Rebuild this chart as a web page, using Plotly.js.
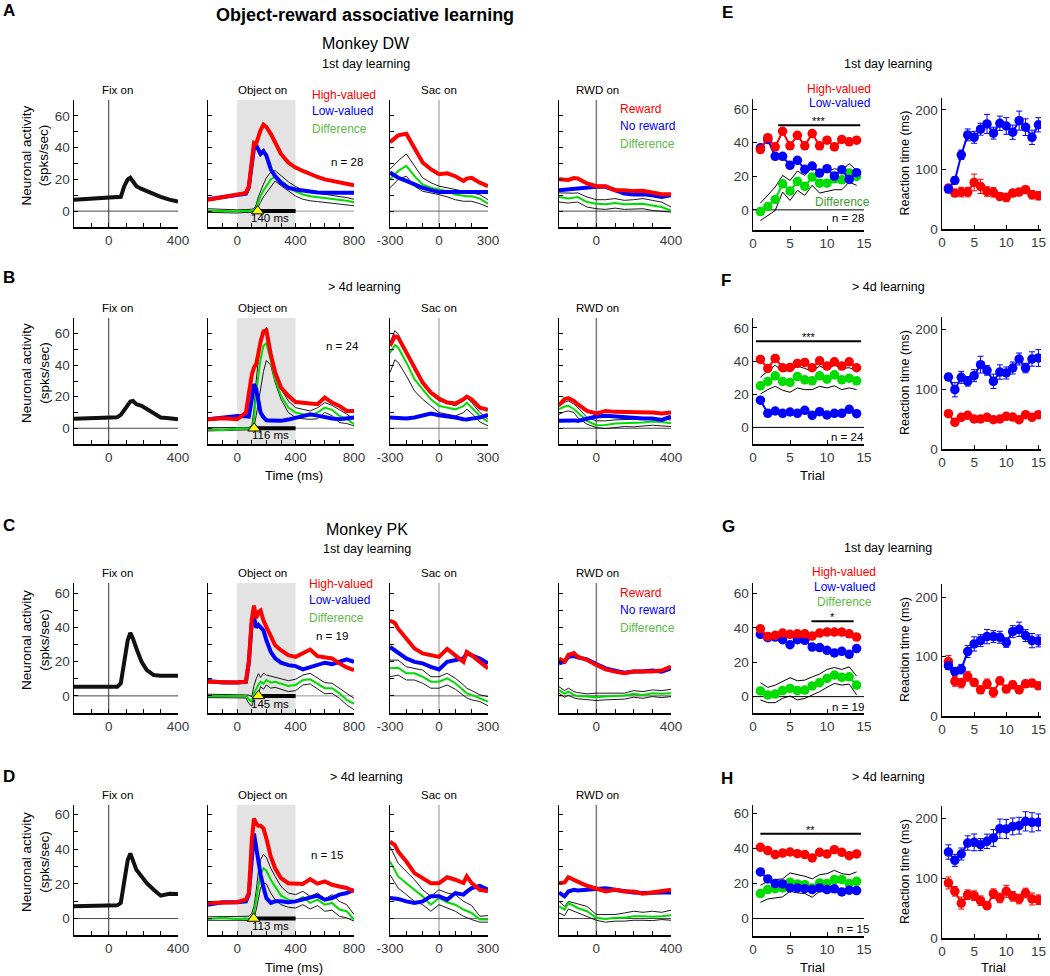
<!DOCTYPE html>
<html>
<head>
<meta charset="utf-8">
<script src="https://cdn.plot.ly/plotly-3.0.1.min.js"></script>
<style>
  body { margin: 0; background: #fff; }
  #fig { width: 1050px; height: 976px; }
</style>
</head>
<body>
<div id="fig"></div>
<script>
//========================= Data: neuronal activity (spks/sec) =====================================
// Fix on
const tFix = [-200,-100,0,50,70,90,110,125,140,160,190,220,260,300,350,400];
const fixA = [7.2,7.9,8.3,8.7,9,15.7,20,21,19,15.7,14,12.5,10.4,9,7.2,6];
const fixB = [6.1,6.3,6.8,7,8.5,12,15.5,17,17.3,15.3,14.2,12.1,8.9,6.8,6.4,5.7];
const fixC = [5.4,5.4,5.4,5.4,7.4,20.9,32.5,36.8,33.5,27.7,19.9,15.1,12.2,11.8,11.8,11.8];
const fixD = [7.1,7.1,7.5,7.6,9,22.4,33.8,37.6,32.9,28.1,24.3,20.4,16.6,13.2,14.3,14.1];

// Object on
const tObj = [-200,-100,0,60,80,100,115,130,145,160,180,200,230,260,300,350,400,450,500,550,600,650,700,750,800];
const redObjA = [7.2,9,10.4,11.5,15.7,32.8,43,42.5,47,51,54.5,53,48.7,43.4,36,30.6,27.4,25.3,23.2,21.5,20,19,17.9,17,16.2];
const blueObjA = [7.5,9,10.4,11,15,32,40,41.5,39,36,37.8,35,26.4,22,17.9,14.7,13.6,12.8,12,11.8,11.5,11.5,11.5,11.5,11.5];
const greenObjA = [0.4,0,-0.2,0.2,0,0.4,0.5,2,6,9.5,13,15.7,20,22,19,15.5,12.5,10.5,9.4,8.8,8.3,7.8,7.2,6.5,5.5];
const upObjA = [1.5,1,0.8,1,1,1.2,1.5,4,9,13,17,21,24.5,25.5,22.5,18.5,15.5,13,12,11.3,10.5,10,9.5,8.5,7.5];
const loObjA = [-0.8,-1,-1.2,-0.8,-1,-0.5,-0.5,0.2,2.5,5.5,9,11.5,16,19,16,12.5,9.5,7.5,6.5,6,5.5,5,4.5,4,3.4];

const redObjB = [5.7,6.4,5.7,10,22,34,38.5,40.7,47.5,55,61.5,62,47,35.4,25.9,20.6,16.7,16.3,15.9,15.3,19.5,16.3,14.2,11,11];
const blueObjB = [5.7,6.8,7.8,7.6,7.4,18.4,28,25,15.5,10,7,5.1,5,5,4.7,5.5,6.8,8,8.9,8,6.8,6.2,5.7,6.2,6.8];
const greenObjB = [-0.6,-1.3,-0.2,-0.2,-0.2,0.5,6,22.7,35,44,52.4,54,43,31.2,20.6,13.1,10,8.9,7.8,10,13.1,11.7,7.8,6.1,2.5];
const upObjB = [0.4,0.2,0.4,0.4,0.5,1.5,12,30,44,53,60,64,48,37.5,24.8,17.4,13.1,12,11,13,16.3,14.5,12,9,5.7];
const loObjB = [-1.7,-1.5,-1.1,-1,-1,-0.5,1,8,17,26,36,43,40,29,18.4,10,6.8,6,5.7,6,10,8,3.6,3,1.5];

const redObjC = [8.3,7.9,7.9,8.3,20,45,52.8,45.5,49,49.9,44,40.3,34.4,29.6,26.7,23.8,22.8,24.8,27.1,23.2,22.8,21.9,19,16.6,15.1];
const blueObjC = [8.7,7.9,7.9,8.3,20,43,46,40,41.5,40,38.3,32.5,25.7,21.9,19.4,18,17.4,15.5,16.6,18,19.4,18.6,19.9,21.3,19.9];
const greenObjC = [0,0,-0.4,0,-2,-3.5,1.5,4.5,6.5,8.3,7,9.3,7.7,8.3,7,5.8,6.4,9.3,9.7,7,4.5,4.5,1.5,-2.3,-4.6];
const upObjC = [1,0.8,0.6,0.8,0.5,-0.5,6,10,13,10.8,13.2,12.2,11.5,11.2,10,8.9,9.7,12.2,13.2,10.3,7.7,7.4,4.5,1.5,-1.4];
const loObjC = [-1,-1.2,-1.4,-1.2,-4.5,-6,-2,-0.5,1.5,5.4,3.9,6.4,4.5,5,3.9,2.5,3.1,6.4,7,3.9,1.2,1.5,-1.4,-5.2,-8.1];

const redObjD = [9,9.4,9.4,11,14.7,45.3,57.7,54.8,53.5,53.5,52,46.2,35.7,29,23.3,20.4,20.1,19.9,22.7,20.1,21.4,19.5,18.5,17.6,15.7];
const blueObjD = [8,9.4,9.4,9.9,14,38,49,41,32.5,25.5,18,11.8,9,9.9,9.9,9.4,9.9,10.9,11.8,13.2,10.9,11.8,13.8,14.7,16.6];
const greenObjD = [-0.2,0.4,-0.2,0,-0.4,1,3.2,11,19.5,26,29,27.6,22.4,18.5,13.2,10.9,9.9,12.4,9,10.9,8,9,5.2,4.2,-0.6];
const upObjD = [1,1,1,1,1.3,3,7.1,16,27,34,37,35.2,29,24.3,18.5,14.7,13.8,15.7,12.8,14.7,11.3,13.8,9.9,8,2.3];
const loObjD = [-1,-1,-1,-1,-1.5,-0.5,0.4,5,12,17.5,20.4,20,14.7,10.9,8,6.5,6.1,8,5.5,7.5,4.2,4.8,1.3,0.4,-1.5];

// Sac on
const tSac = [-300,-270,-250,-200,-150,-100,-50,0,50,100,150,170,200,250,300];
const redSacA = [43.4,46,47.7,48.7,39,30.6,26.4,23.2,23.8,22,19,20.5,21,17.9,15.7];
const blueSacA = [24.3,22.5,21,19,16.8,14.7,13.2,12,12,12.3,12,12,12.1,12.3,12];
const greenSacA = [20,23,25.3,28.5,22,16.8,14.7,13.6,12.5,10.4,9.4,9.4,9.4,7.9,4.7];
const upSacA = [26.4,29.5,31.7,36,28.5,21,17.9,15.7,14.7,13.6,12.5,12,11.5,10.4,7.2];
const loSacA = [14.7,17.5,20,22,15.7,12.5,11.5,10.4,9,7.2,6.2,6.2,6.2,4.7,2.6];

const redSacB = [52.4,58.3,57.7,48.1,37.5,29,22.7,18.9,16.3,15.7,18.4,20.1,18.4,13.1,11.7];
const blueSacB = [6.8,6.5,6.1,6.2,6.8,7.8,9.3,8.3,7.8,6.8,5.7,5.6,6.1,6.8,8.5];
const greenSacB = [48,52.8,51.3,41.8,31.2,24.8,18.4,14.2,13.1,12,14.2,16.3,13.1,7.8,4];
const upSacB = [54.5,62,59.8,48,36.5,29,21.6,17.4,15.9,14.2,17.4,19.5,16.3,10,5.7];
const loSacB = [35.4,43.5,41.8,33.3,23.7,18.4,14.2,10,8.9,7.8,10,12.1,9.5,4,1.5];

const redSacC = [44.1,42.6,39.3,33.5,27.7,24.8,23.8,22.8,27.5,23.8,19.9,25.7,23.8,19.9,16.1];
const blueSacC = [28.6,26.5,24.8,21.9,19.9,19,17,15.5,19.9,20.9,21.9,24.8,23.8,21.9,19];
const greenSacC = [16.1,16.5,16.5,13.2,13.2,11.2,8.3,8.3,10.3,7.4,3.5,1.5,0.6,-1.4,-3.3];
const upSacC = [20.9,21,20.9,17,16.1,15.1,11.2,11.2,13.2,10.3,6.4,4.5,3.1,0.6,-0.4];
const loSacC = [11.2,12,12.2,9.3,9.3,7.4,4.5,4.5,6.4,3.9,0,-1.2,-2.3,-3.3,-5.8];

const redSacD = [44.3,42.4,38.6,32.9,26.2,23.3,20.4,20.4,23.8,22.4,20.5,24.3,20.4,16.6,15.7];
const blueSacD = [11.8,11.5,11.3,9.9,9,9.9,12.8,12.8,10.9,14.7,13.8,15.5,17.6,18.9,16.6];
const greenSacD = [32.9,28,24.3,20.4,16.6,12.8,8,11.8,9.4,8,5.2,4.5,3.2,-0.6,-0.6];
const upSacD = [41.5,36,31.9,27.1,22.4,16.6,12.8,16.6,14.7,13.8,9.9,9,7.5,1.3,1.7];
const loSacD = [25.2,20.5,17.6,13.8,9.9,8,4.2,8,6.1,4.2,1.3,0.5,-0.6,-2.1,-2.1];

// RWD on
const tRwd = [-200,-170,-150,-120,-100,-50,0,50,100,150,200,250,300,350,400];
const redRwdA = [20,19.6,19.6,20.8,20.6,17.4,15.7,15.7,13.2,13.2,12.6,12.8,11.5,10.6,10.6];
const blueRwdA = [13.2,13.5,13.8,14.3,14.7,14.9,15.3,15.3,13.2,11.1,10.4,10.6,10,8.9,10];
const greenRwdA = [8.9,8.2,7.9,8.5,8.9,5.7,4.7,4.3,5.1,4.3,4.3,4.7,3.6,2.6,0.4];
const upRwdA = [11.5,11.3,11.1,11.3,11.5,8.9,7.2,7.2,7.9,6.8,7.2,7.9,6.8,5.7,2.6];
const loRwdA = [5.7,5.3,5.1,5.5,5.7,2.6,1.5,1.1,1.9,1.1,1.5,1.5,0.4,0,-0.6];

const redRwdB = [14.7,18.5,19.1,17.4,15.3,11,9.4,11,10.4,10.4,10,10,10,9.4,10];
const blueRwdB = [4.7,5,5.3,5,4.7,6.2,7.4,7.9,7.4,6.8,6.2,6.2,6.2,5.3,7.4];
const greenRwdB = [12.1,13.8,14.3,12.1,10,4.7,1.9,2.1,3,3.2,3.6,3.6,4.3,4,3.2];
const upRwdB = [13.8,16.5,17.4,15.3,13.2,6.8,4.7,4.7,5.3,5.3,5.7,6.2,6.2,5.7,5.3];
const loRwdB = [8.9,10.5,11,10,6.8,2.6,0.4,-0.2,0.4,1.1,0.9,1.5,1.9,1.5,1.1];

const redRwdC = [21.9,20,23.9,25,22.9,21,18.1,15.5,14.2,13.2,14.2,14.2,14.2,14.8,17.1];
const blueRwdC = [19,20,22.9,23.3,22.5,21.4,18.6,16.1,14.8,13.6,14.2,14.2,14.8,14.2,16.1];
const greenRwdC = [3.5,1.2,2.5,0.6,0,-0.4,-0.8,-0.4,0,0.2,1.2,0.6,1.6,1.2,1.6];
const upRwdC = [5.4,3.1,4.5,2.5,1.9,1.2,1.6,1.6,1.9,1.6,3.1,2.5,3.5,3.1,3.9];
const loRwdC = [1.6,-0.8,0.4,-1.2,-1.7,-2.3,-2.7,-2.3,-1.9,-1.9,-0.8,-1.4,-0.4,-1,-0.4];

const redRwdD = [20.4,20.8,23.8,21.9,21.3,18.9,17,15.6,16.6,15.6,15.6,14.3,15,15.6,16.6];
const blueRwdD = [15,12.8,15.6,16.6,16.2,16.6,17.5,17.5,16.6,15.6,15,14.7,15,15,15];
const greenRwdD = [7,5.1,9,7,6.1,4.2,0.4,-0.2,0.4,0.4,1.3,1.3,1,1.3,1.9];
const upRwdD = [9.9,7,9.9,9,8.6,7,2.3,2.3,2.3,3.2,4.2,3.6,4.2,3.6,4.8];
const loRwdD = [3.2,1.7,5.5,4.2,3.6,1.3,-1,-2.1,-1.5,-1.5,-1,-1,-1.2,-0.6,-1];

// latency of value coding (ms) and number of neurons per row
const onsetMs = [140, 116, 145, 113];
const nNeurons = [28, 24, 19, 15];

//========================= Data: behaviour =====================================
const trials14 = [1,2,3,4,5,6,7,8,9,10,11,12,13,14];
const trials15 = [1,2,3,4,5,6,7,8,9,10,11,12,13,14,15];

const redE = [35.9,43,37.5,46.8,38.1,44.4,38.1,45.4,38.1,41.5,37.5,41.9,40.5,41.5];
const blueE = [36.9,41.9,31.9,31.9,26.5,29.5,24.1,26.1,21.9,24.5,20.1,23.9,18.1,22.1];
const greenE = [-1,2,6.2,15.5,11.2,16.9,14,19.5,15.9,15.9,18.5,17.9,21.9,19.9];
const upE = [4,8.6,13.6,20.5,17.5,23.1,20.5,25.5,21.9,22.5,24.5,23.5,27.5,23.5];
const loE = [-6.4,-3.4,-0.4,10.6,5.6,11.6,8.6,14.6,10,11,12,12,16.5,14.6];

const redF = [41,35.6,41.6,36,36.2,38.6,39.2,36,40.2,37,39.6,37,39.6,36];
const blueF = [16.4,8.5,9.9,8.5,9.3,8.5,10.3,7.3,9.5,7.5,8.5,8.5,10.9,8.3];
const greenF = [25.1,27.7,31.1,27.7,27.1,30.7,28.7,28.1,31.1,29.1,31.7,28.7,29.7,28.1];
const upF = [30.3,33.7,37.6,33.7,34.3,37,35.6,33.7,37,35,37.6,35.6,36,34.3];
const loF = [20.2,22.8,24.8,22.4,21.2,23.8,22.8,22.8,24.8,23.8,25.1,22.8,23.8,22.8];

const redG = [39.4,35,35.6,36.9,36.2,36.5,36.5,35.2,36.9,37.5,37.5,37.5,36.5,34.6];
const blueG = [36.2,34.2,34.6,33.1,30.2,33.1,32.7,28.8,28.5,26.9,25.4,26.3,24.6,27.9];
const greenG = [3.3,1,1.5,3.5,4.8,3.5,3.8,6.2,8.1,10.6,12.5,11.2,11.5,6.7];
const upG = [8.1,5.4,6.7,8.7,11,9.2,9.6,11.5,13.1,15.8,16.9,15.8,17.3,11.9];
const loG = [-1.9,-3.5,-3.5,-1,0.4,-1.9,-1,1,2.9,5.4,7.7,6.7,7.3,1];

const redH = [40.8,38.9,36.6,37.5,38.1,37.1,36.6,34.7,37.9,37,39.4,37.9,36,37];
const blueH = [26.7,22.7,20,19.8,17.5,17.5,17.1,16.6,17.5,16.6,17,15.2,16.2,16];
const greenH = [14.3,16.6,17.1,17.5,20.8,19.8,19.4,17.5,20.4,20,22.3,22.3,20,21.3];
const upH = [19,21.3,22.3,22.7,26.1,25.1,24.2,22.7,25.1,25.7,27.6,25.7,25.1,26.7];
const loH = [9.3,11.2,11.8,12.4,15.6,14.7,14.3,12.2,15.6,15,17,16.6,15.2,16.2];

// reaction time (ms), mean and error
const rtBlueE = [67,81.6,124.6,158,154,167.6,176.5,161,177.6,173,162.6,182,171,154,175];
const rtBlueErrE = [6,6,8,10,10,10,16,10,12,14,12,16,14,12,12];
const rtRedE = [68.7,60.3,62,62,78.2,71.5,63,61.5,54.7,53,60.3,62,66,57.5,55.9];
const rtRedErrE = [6,5,8,8,14,12,8,8,6,7,6,6,6,7,7];

const rtBlueF = [120,98.9,119.4,112.8,122.2,140.6,131,112.8,128.3,126.7,135,150,135,150,151.7];
const rtBlueErrF = [6,12,10,8,10,14,8,12,12,10,10,10,8,12,14];
const rtRedF = [58.9,44.4,52.8,56.1,50,50,52.8,48.9,50,54.4,53.3,48.9,57.2,52.8,57.2];
const rtRedErrF = [3,4,3,3,3,3,3,3,3,3,3,3,3,3,3];

const rtBlueG = [84.4,74.9,78.8,108.4,121.2,126.8,133.5,133.5,132.4,123.5,141.9,145.8,135.2,126.8,126.3];
const rtBlueErrG = [6,6,8,10,12,10,12,10,10,8,10,12,10,12,10];
const rtRedG = [91.6,58.1,55.3,66.5,56.4,44.1,54.2,39.7,59.2,45.3,52.5,44.1,54.2,55.3,50.8];
const rtRedErrG = [10,8,8,8,6,6,8,8,6,6,6,6,6,6,6];

const rtBlueH = [143.3,129.4,140,158.3,159.4,155.6,161.1,166.7,182.2,181.7,186,187.2,194.4,192.8,192.8];
const rtBlueErrH = [12,10,10,12,14,10,12,14,16,16,14,14,16,16,14];
const rtRedH = [91.7,77.8,58.3,72.2,70.6,62.2,53.9,73.9,66.7,77.8,69.4,65,75,65,63.9];
const rtRedErrH = [10,8,10,8,8,8,6,8,8,10,8,8,8,10,8];

// significance bars (trial range, level) and stars
const sigStart = [3.4, 0.4, 7.9, 1];
const sigEnd = [14.5, 14.6, 13.6, 14.6];
const sigLevel = [50.4, 52, 43.8, 48.6];
const sigStars = ['***', '***', '*', '**'];

//========================= Layout helpers =====================================
const W = 1050, H = 976;
const FONT = 'Liberation Sans, Arial, sans-serif';
const RED = '#ff0000', BLUE = '#0000ff', GREEN = '#00dc00';
const KEY_GREEN = '#5dbb46';

const colX = {fix: [74, 178], obj: [208, 354], sac: [390, 488], rwd: [559, 671], beh: [753, 864], rt: [942, 1041]};
const neuroY = [[100, 227], [318, 444], [583, 713], [805, 935]];
const neuroRange = [[-10, 70], [-10, 70], [-10, 66], [-9.5, 65.5]];
const behY = [[99, 230], [318, 444], [583, 713], [805, 936]];
const behRange = [[-12, 66], [-10, 66], [-9.5, 66], [-10, 65]];
const rtY = [[98, 229], [317, 449], [584, 716], [806, 938]];
const rtRange = [[0, 220], [0, 220], [0, 222], [0, 220]];

const layout = {
  width: W, height: H,
  margin: {l: 0, r: 0, t: 0, b: 0},
  showlegend: false,
  paper_bgcolor: '#ffffff',
  plot_bgcolor: 'rgba(0,0,0,0)',
  font: {family: FONT, size: 12, color: '#000'},
  shapes: [],
  annotations: []
};
const traces = [];

function axId(n) { return n === 1 ? '' : String(n); }

function addAxes(n, xdom, ydom, xr, yr, xticks, yticks) {
  const base = {
    showline: true, linecolor: '#000', linewidth: 1.5,
    ticks: 'inside', ticklen: 4, tickwidth: 1, tickcolor: '#000',
    showgrid: false, zeroline: false, fixedrange: true,
    tickfont: {family: FONT, size: 13.5, color: '#3a3a3a'},
    tickmode: 'array'
  };
  layout['xaxis' + axId(n)] = Object.assign({}, base, {
    domain: [xdom[0] / W, xdom[1] / W], range: xr, anchor: 'y' + axId(n),
    tickvals: xticks[0], ticktext: xticks[1]
  });
  layout['yaxis' + axId(n)] = Object.assign({}, base, {
    domain: [1 - ydom[1] / H, 1 - ydom[0] / H], range: yr, anchor: 'x' + axId(n),
    tickvals: yticks[0], ticktext: yticks[1]
  });
}

function line(n, x, y, color, width) {
  traces.push({
    x: x, y: y, xaxis: 'x' + axId(n), yaxis: 'y' + axId(n),
    type: 'scatter', mode: 'lines', hoverinfo: 'skip',
    line: {color: color, width: width}
  });
}

function dots(n, x, y, color, err) {
  const t = {
    x: x, y: y, xaxis: 'x' + axId(n), yaxis: 'y' + axId(n),
    type: 'scatter', mode: 'lines+markers', hoverinfo: 'skip',
    line: {color: color, width: 2},
    marker: {color: color, size: 9.5}
  };
  if (err) t.error_y = {type: 'data', array: err, visible: true, color: color, thickness: 1, width: 3};
  traces.push(t);
}

function vline(n, color, width) {
  layout.shapes.push({type: 'line', xref: 'x' + axId(n), yref: 'y' + axId(n) + ' domain',
    x0: 0, x1: 0, y0: 0, y1: 1, line: {color: color, width: width}, layer: 'below'});
}

function hline(n, color, width) {
  layout.shapes.push({type: 'line', xref: 'x' + axId(n) + ' domain', yref: 'y' + axId(n),
    x0: 0, x1: 1, y0: 0, y1: 0, line: {color: color, width: width}, layer: 'below'});
}

// text placed in page pixels
function txt(px, py, s, size, color, anchor, bold, angle) {
  const a = {
    xref: 'paper', yref: 'paper', x: px / W, y: 1 - py / H,
    text: bold ? '<b>' + s + '</b>' : s, showarrow: false,
    xanchor: anchor || 'center', yanchor: 'middle',
    font: {family: FONT, size: size, color: color || '#000'}
  };
  if (angle) a.textangle = angle;
  layout.annotations.push(a);
}

function labels(vals, shown) {
  return [vals, vals.map(v => shown.indexOf(v) >= 0 ? String(v) : '')];
}

//========================= Neural panels (A-D) =====================================
const fixRows = [fixA, fixB, fixC, fixD];
const objRows = [
  [redObjA, blueObjA, greenObjA, upObjA, loObjA],
  [redObjB, blueObjB, greenObjB, upObjB, loObjB],
  [redObjC, blueObjC, greenObjC, upObjC, loObjC],
  [redObjD, blueObjD, greenObjD, upObjD, loObjD]
];
const sacRows = [
  [redSacA, blueSacA, greenSacA, upSacA, loSacA],
  [redSacB, blueSacB, greenSacB, upSacB, loSacB],
  [redSacC, blueSacC, greenSacC, upSacC, loSacC],
  [redSacD, blueSacD, greenSacD, upSacD, loSacD]
];
const rwdRows = [
  [redRwdA, blueRwdA, greenRwdA, upRwdA, loRwdA],
  [redRwdB, blueRwdB, greenRwdB, upRwdB, loRwdB],
  [redRwdC, blueRwdC, greenRwdC, upRwdC, loRwdC],
  [redRwdD, blueRwdD, greenRwdD, upRwdD, loRwdD]
];

const yTen = [0, 10, 20, 30, 40, 50, 60];
const fixX = labels([-200, -100, 0, 100, 200, 300, 400], [0, 400]);
const objX = labels([-200, -100, 0, 100, 200, 300, 400, 500, 600, 700, 800], [0, 400, 800]);
const sacX = labels([-300, -200, -100, 0, 100, 200, 300], [-300, 0, 300]);
const rwdX = labels([-200, -100, 0, 100, 200, 300, 400], [0, 400]);

function fiveLines(n, t, set) {
  line(n, t, set[3], '#000', 0.9);
  line(n, t, set[4], '#000', 0.9);
  line(n, t, set[2], GREEN, 2);
  line(n, t, set[1], BLUE, 4);
  line(n, t, set[0], RED, 4);
}

for (let r = 0; r < 4; r++) {
  const base = r * 6;
  const yd = neuroY[r], yr = neuroRange[r];

  // Fix on
  addAxes(base + 1, colX.fix, yd, [-200, 400], yr, fixX, labels(yTen, [0, 20, 40, 60]));
  vline(base + 1, '#555', 1.2);
  hline(base + 1, '#333', 0.9);
  line(base + 1, tFix, fixRows[r], '#111', 4);

  // Object on
  addAxes(base + 2, colX.obj, yd, [-200, 800], yr, objX, labels(yTen, []));
  layout.shapes.push({type: 'rect', xref: 'x' + axId(base + 2), yref: 'y' + axId(base + 2) + ' domain',
    x0: 0, x1: 400, y0: 0, y1: 1, fillcolor: '#e3e3e3', line: {width: 0}, layer: 'below'});
  hline(base + 2, '#888', 0.9);
  fiveLines(base + 2, tObj, objRows[r]);
  line(base + 2, [onsetMs[r], 400], [0, 0], '#000', 4);
  traces.push({x: [onsetMs[r]], y: [0], xaxis: 'x' + axId(base + 2), yaxis: 'y' + axId(base + 2),
    type: 'scatter', mode: 'markers', hoverinfo: 'skip',
    marker: {symbol: 'triangle-up', size: 11, color: '#ffff00', line: {color: '#000', width: 1}}});

  // Sac on
  addAxes(base + 3, colX.sac, yd, [-300, 300], yr, sacX, labels(yTen, []));
  vline(base + 3, '#a0a0a0', 1.2);
  hline(base + 3, '#555', 0.9);
  fiveLines(base + 3, tSac, sacRows[r]);

  // RWD on
  addAxes(base + 4, colX.rwd, yd, [-200, 400], yr, rwdX, labels(yTen, []));
  vline(base + 4, '#808080', 1.6);
  hline(base + 4, '#333', 0.9);
  fiveLines(base + 4, tRwd, rwdRows[r]);

  // panel titles
  const ty = yd[0] - 10;
  txt(117, ty, 'Fix on', 11.5);
  txt(262, ty, 'Object on', 11.5);
  txt(439, ty, 'Sac on', 11.5);
  txt(597, ty, 'RWD on', 11.5);
  txt(35, (yd[0] + yd[1]) / 2 - 8, 'Neuronal activity<br>(spks/sec)', 13.5, '#000', 'center', false, -90);
  txt(270, yd[1] - 9, onsetMs[r] + ' ms', 11.5);
}

// n labels in object-on panels
txt(347, 162, 'n = ' + nNeurons[0], 11.5);
txt(342, 346, 'n = ' + nNeurons[1], 11.5);
txt(332, 636, 'n = ' + nNeurons[2], 11.5);
txt(327, 855, 'n = ' + nNeurons[3], 11.5);

// colour keys
[[310, 95], [307, 584]].forEach(p => {
  txt(p[0], p[1], 'High-valued', 12, RED, 'left');
  txt(p[0], p[1] + 16, 'Low-valued', 12, BLUE, 'left');
  txt(p[0], p[1] + 34, 'Difference', 12, KEY_GREEN, 'left');
});
[[618, 109], [618, 593]].forEach(p => {
  txt(p[0], p[1], 'Reward', 12, RED, 'left');
  txt(p[0], p[1] + 17, 'No reward', 12, BLUE, 'left');
  txt(p[0], p[1] + 35, 'Difference', 12, KEY_GREEN, 'left');
});

//========================= Behaviour panels (E-H) =====================================
const behRows = [
  [redE, blueE, greenE, upE, loE],
  [redF, blueF, greenF, upF, loF],
  [redG, blueG, greenG, upG, loG],
  [redH, blueH, greenH, upH, loH]
];
const rtRows = [
  [rtRedE, rtRedErrE, rtBlueE, rtBlueErrE],
  [rtRedF, rtRedErrF, rtBlueF, rtBlueErrF],
  [rtRedG, rtRedErrG, rtBlueG, rtBlueErrG],
  [rtRedH, rtRedErrH, rtBlueH, rtBlueErrH]
];
const trialX = labels([0, 5, 10, 15], [0, 5, 10, 15]);

for (let r = 0; r < 4; r++) {
  const nb = r * 6 + 5, nr = r * 6 + 6;
  const b = behRows[r], rt = rtRows[r];

  addAxes(nb, colX.beh, behY[r], [0, 15], behRange[r], trialX, labels([0, 20, 40, 60], [0, 20, 40, 60]));
  hline(nb, '#000', 1);
  line(nb, trials14, b[3], '#000', 1);
  line(nb, trials14, b[4], '#000', 1);
  dots(nb, trials14, b[2], GREEN);
  dots(nb, trials14, b[1], BLUE);
  dots(nb, trials14, b[0], RED);
  line(nb, [sigStart[r], sigEnd[r]], [sigLevel[r], sigLevel[r]], '#000', 2);
  layout.annotations.push({xref: 'x' + axId(nb), yref: 'y' + axId(nb),
    x: (sigStart[r] + sigEnd[r]) / 2, y: sigLevel[r], yshift: 4, text: sigStars[r],
    showarrow: false, font: {family: FONT, size: 11, color: '#000'}});

  addAxes(nr, colX.rt, rtY[r], [0, 15.4], rtRange[r], trialX, labels([0, 100, 200], [0, 100, 200]));
  dots(nr, trials15, rt[0], RED, rt[1]);
  dots(nr, trials15, rt[2], BLUE, rt[3]);
  txt(905, (rtY[r][0] + rtY[r][1]) / 2, 'Reaction time (ms)', 12.5, '#000', 'center', false, -90);
}

txt(839, 89, 'High-valued', 12, RED);
txt(839, 103, 'Low-valued', 12, BLUE);
txt(842, 202, 'Difference', 12, '#3f9a2e');
txt(848, 218, 'n = ' + nNeurons[0], 11.5);
txt(847, 437, 'n = ' + nNeurons[1], 11.5);
txt(844, 572, 'High-valued', 12, RED);
txt(844, 587, 'Low-valued', 12, BLUE);
txt(844, 602, 'Difference', 12, KEY_GREEN);
txt(848, 707, 'n = ' + nNeurons[2], 11.5);
txt(853, 929, 'n = ' + nNeurons[3], 11.5);

//========================= Headings =====================================
txt(365, 15, 'Object-reward associative learning', 18, '#000', 'center', true);
txt(366, 43, 'Monkey DW', 16);
txt(366, 64, '1st day learning', 12.5);
txt(364, 287, '&gt; 4d learning', 12.5);
txt(367, 529, 'Monkey PK', 16);
txt(367, 549, '1st day learning', 12.5);
txt(366, 777, '&gt; 4d learning', 12.5);
txt(888, 64, '1st day learning', 12.5);
txt(888, 287, '&gt; 4d learning', 12.5);
txt(888, 548, '1st day learning', 12.5);
txt(888, 777, '&gt; 4d learning', 12.5);

txt(294, 475, 'Time (ms)', 13);
txt(294, 967, 'Time (ms)', 13);
txt(812, 475, 'Trial', 13);
txt(812, 967, 'Trial', 13);
txt(993, 967, 'Trial', 13);

[['A', 9, 11], ['B', 9, 277], ['C', 9, 525], ['D', 9, 776],
 ['E', 727, 13], ['F', 726, 280], ['G', 728, 526], ['H', 727, 778]].forEach(p => {
  txt(p[1], p[2], p[0], 17, '#000', 'center', true);
});

Plotly.newPlot('fig', traces, layout, {staticPlot: true, displayModeBar: false});
</script>
</body>
</html>
